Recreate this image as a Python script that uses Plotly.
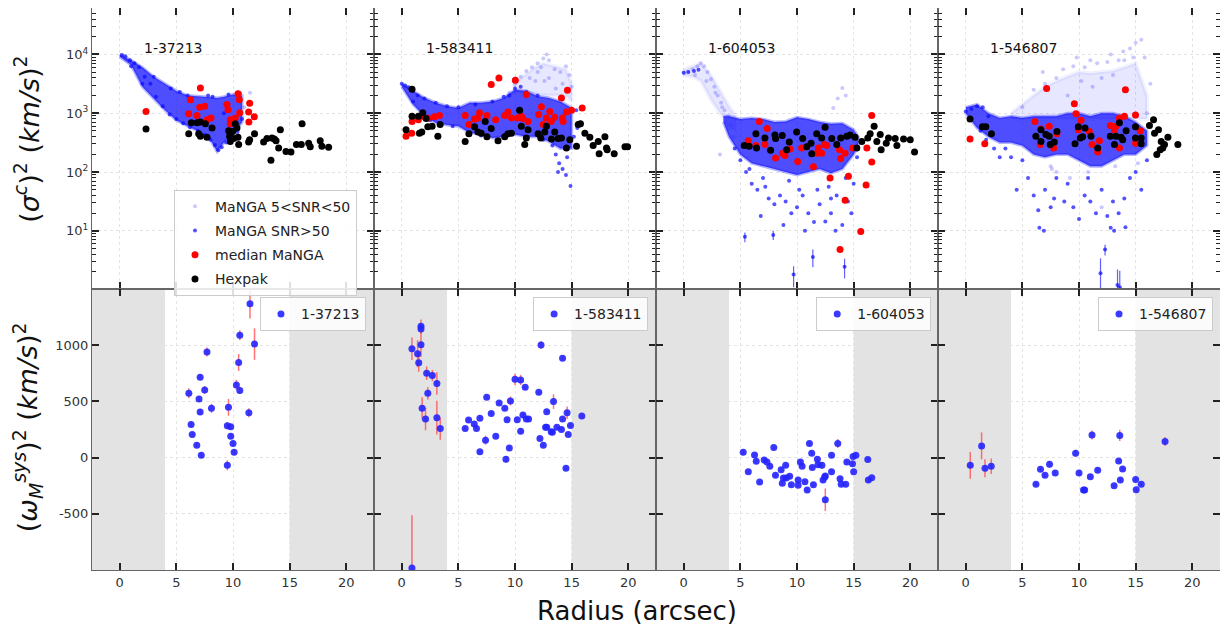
"""MaNGA / Hexpak dispersion profiles, four galaxies"""

import numpy as np
import plotly.graph_objects as go

GALAXIES = ["1-37213", "1-583411", "1-604053", "1-546807"]
X_RANGE = [-2.45, 22.45]

# ---- top row: values are log10 of (sigma^c)^2 in (km/s)^2 ----

# dense MaNGA SNR>50 cloud, upper / lower edge vs radius
band1_r = [0, 1, 2, 3, 4, 5, 6, 7, 8, 8.6, 9.2, 10, 10.8]
band1_hi = [4.0, 3.9, 3.78, 3.62, 3.5, 3.38, 3.3, 3.29, 3.27, 3.26, 3.28, 3.32, 3.3]
band1_lo = [3.96, 3.82, 3.45, 3.25, 3.05, 2.88, 2.78, 2.69, 2.55, 2.35, 2.5, 2.64, 2.85]
band2_r = [0, 1, 2, 3, 4, 5, 6, 7, 8, 9, 10, 11, 12, 13, 14, 15]
band2_hi = [3.5, 3.38, 3.26, 3.18, 3.12, 3.09, 3.18, 3.18, 3.2, 3.26, 3.4, 3.38, 3.29, 3.26, 3.2, 3.09]
band2_lo = [3.45, 3.15, 2.95, 2.84, 2.8, 2.78, 2.67, 2.64, 2.58, 2.6, 2.64, 2.6, 2.6, 2.52, 2.4, 2.4]
band3_r = [3.5, 4, 5, 6, 7, 8, 9, 10, 11, 12, 13, 14, 15, 15.4]
band3_hi = [2.95, 2.95, 2.9, 2.92, 2.9, 2.85, 2.86, 2.93, 2.9, 2.85, 2.82, 2.83, 2.72, 2.6]
band3_lo = [2.85, 2.6, 2.3, 2.15, 2.1, 2.05, 2.0, 1.95, 2.0, 2.05, 1.98, 2.05, 2.3, 2.45]
band4_r = [0, 1, 2, 3, 4, 5, 6, 7, 8, 9, 10, 11, 12, 13, 14, 15, 16]
band4_hi = [3.1, 3.15, 3.0, 2.92, 2.95, 2.92, 2.95, 2.95, 2.95, 3.0, 3.0, 2.95, 3.0, 3.0, 2.95, 2.85, 2.7]
band4_lo = [3.0, 2.75, 2.6, 2.5, 2.5, 2.45, 2.3, 2.25, 2.3, 2.3, 2.2, 2.1, 2.1, 2.2, 2.3, 2.3, 2.45]

# sparser MaNGA 5<SNR<50 cloud
light2_r = [9.8, 10.5, 11.5, 12.5, 13.5, 14.5, 15.0]
light2_hi = [3.45, 3.6, 3.75, 3.85, 3.8, 3.75, 3.5]
light2_lo = [3.35, 3.35, 3.35, 3.3, 3.3, 3.3, 3.2]
light3_r = [0.0, 0.8, 1.5, 2.5, 3.3, 4.0, 4.6]
light3_hi = [3.74, 3.8, 3.85, 3.62, 3.34, 3.12, 2.95]
light3_lo = [3.64, 3.62, 3.55, 3.2, 2.98, 2.75, 2.7]
light4_r = [4, 5, 6, 7, 8, 9, 10, 11, 12, 13, 14, 15, 16]
light4_hi = [3.0, 3.15, 3.3, 3.45, 3.55, 3.62, 3.7, 3.68, 3.7, 3.72, 3.78, 3.85, 3.3]
light4_lo = [2.9, 2.9, 2.9, 2.9, 2.9, 2.9, 2.9, 2.9, 2.9, 2.9, 2.9, 2.9, 2.9]

# individual SNR>50 spaxels outside the dense part
dots1_r = [0.2, 0.5, 0.9, 1.3, 1.7, 2.2, 2.7, 3.2, 3.8, 4.4, 5.0, 5.6, 6.2, 6.9, 7.5, 8.0, 8.4,
           8.7, 9.0, 9.4, 9.9, 10.4, 10.8, 3.0, 4.5, 6.0, 8.2, 9.6, 10.6, 1.0, 2.0, 5.3, 7.8, 9.2]
dots1_lg = [3.99, 3.97, 3.9, 3.85, 3.78, 3.62, 3.5, 3.28, 3.12, 2.98, 2.9, 2.83, 2.76, 2.7, 2.63,
            2.55, 2.46, 2.37, 2.42, 2.5, 2.6, 2.68, 2.9, 3.62, 3.42, 3.3, 3.28, 3.32, 3.34, 3.8,
            3.5, 3.36, 3.3, 3.0]
dots2_r = [0.0, 0.3, 0.6, 1.0, 1.4, 2.0, 3.0, 4.0, 5.0, 6.5, 8.0, 9.0, 10.0, 11.0, 12.5, 13.3,
           13.6, 13.9, 14.2, 14.5, 14.9, 13.8, 14.6, 15.2, 15.5, 15.4, 12.0, 10.5, 9.5, 1.0, 2.5,
           4.5, 7.0]
dots2_lg = [3.5, 3.47, 3.44, 3.38, 3.3, 3.25, 3.18, 3.12, 3.1, 3.15, 3.2, 3.28, 3.42, 3.36, 2.55,
            2.45, 2.3, 2.15, 2.05, 1.95, 1.76, 2.0, 2.25, 2.6, 2.75, 3.05, 3.3, 3.45, 3.3, 3.2,
            2.88, 2.78, 2.62]
dots3_r = [4.5, 5.0, 5.5, 6.0, 6.5, 7.0, 7.5, 8.0, 8.5, 9.0, 9.5, 10.0, 10.5, 11.0, 11.5, 12.0,
           12.5, 13.0, 13.5, 14.0, 14.5, 15.0, 11.8, 10.7, 13.4, 5.8, 7.2, 9.3, 12.8, 14.8, 15.3,
           6.8, 8.8, 10.2, 13.0, 14.3, 0.0, 0.4, 0.9, 1.3]
dots3_lg = [2.4, 2.2, 2.0, 1.8, 1.7, 1.9, 1.55, 1.45, 1.6, 1.5, 1.3, 1.4, 1.6, 1.3, 1.15, 1.45,
            1.16, 1.3, 1.6, 1.1, 1.5, 1.8, 1.7, 1.0, 1.0, 2.05, 1.75, 1.85, 1.75, 1.3, 2.25, 1.25,
            1.1, 1.7, 1.55, 1.9, 3.69, 3.7, 3.72, 3.74]
dots4_r = [0.0, 0.5, 1.0, 1.5, 2.0, 1.3, 1.8, 2.5, 3.0, 4.0, 5.0, 5.5, 6.0, 6.4, 7.0, 7.5, 7.8,
           8.0, 9.0, 9.5, 10.0, 10.5, 11.0, 11.5, 12.0, 12.5, 13.0, 13.5, 14.0, 14.5, 15.0, 15.5,
           16.0, 4.5, 8.7, 12.8, 6.5, 6.9, 13.1, 14.1, 3.5, 10.8]
dots4_lg = [3.03, 3.07, 3.12, 3.1, 2.95, 2.7, 2.55, 2.4, 2.25, 2.25, 2.2, 1.9, 1.6, 1.35, 1.7,
            1.4, 1.55, 1.9, 1.8, 1.4, 1.2, 1.6, 1.5, 1.3, 1.7, 1.25, 1.5, 1.3, 1.55, 1.9, 2.0,
            1.7, 2.2, 1.7, 1.5, 1.05, 1.05, 1.0, 1.0, 1.06, 2.4, 1.9]

# lowest SNR>50 spaxels with visible error bars, in (km/s)^2
tail3_r = [9.7, 11.4, 14.2, 5.4, 7.9]
tail3_v = [1.8, 3.6, 2.45, 7.9, 8.5]
tail3_e = [0.7, 1.2, 0.9, 1.5, 1.5]
tail4_r = [11.9, 13.4, 13.6, 12.3]
tail4_v = [1.9, 1.2, 1.1, 4.8]
tail4_e = [1.5, 1.0, 1.0, 1.0]

# individual 5<SNR<50 spaxels
faint1_r = [11.5, 11.0]
faint1_lg = [3.35, 3.1]
faint2_r = [9.5, 10.0, 10.5, 11.0, 11.5, 12.0, 12.5, 12.8, 13.0, 13.5, 14.0, 14.5, 14.8, 15.0,
            12.0, 13.0, 11.8, 14.2, 13.6, 12.6, 11.3, 12.3]
faint2_lg = [3.35, 3.5, 3.62, 3.72, 3.78, 3.85, 3.93, 4.0, 3.9, 3.75, 3.7, 3.8, 3.65, 3.45, 3.7,
             3.6, 3.55, 3.5, 3.42, 3.55, 3.6, 3.78]
faint3_r = [0.0, 0.4, 0.8, 1.2, 1.5, 1.8, 2.1, 2.4, 2.7, 3.0, 3.3, 3.6, 3.9, 4.2, 1.0, 2.0, 2.8,
            3.4, 13.2, 14.0, 13.6, 3.2, 14.3, 4.4]
faint3_lg = [3.69, 3.7, 3.75, 3.8, 3.85, 3.8, 3.7, 3.58, 3.45, 3.3, 3.18, 3.05, 2.95, 2.8, 3.65,
             3.55, 3.35, 3.1, 3.09, 3.43, 3.25, 2.3, 3.3, 2.6]
faint4_r = [6.0, 7.0, 8.0, 9.5, 10.5, 11.6, 12.5, 13.5, 14.5, 15.0, 15.5, 16.3, 12.0, 14.0, 8.0,
            12.0, 5.0, 9.0, 10.2, 11.2, 13.0, 15.8, 16.0, 7.5, 6.8, 8.6, 9.8, 11.0, 12.8, 13.9,
            14.8, 7.6, 10.8, 13.2, 15.2, 9.2]
faint4_lg = [3.4, 3.5, 3.6, 3.8, 3.78, 3.85, 3.87, 3.9, 4.1, 4.2, 4.25, 3.5, 3.6, 3.9, 2.0, 1.4,
             3.1, 3.3, 3.55, 3.45, 3.65, 3.95, 3.0, 2.1, 3.7, 3.75, 3.95, 3.9, 4.0, 4.05, 3.95,
             2.05, 2.0, 2.1, 2.15, 1.9]

# median MaNGA
med1_r = [2.32, 6.24, 7.12, 6.09, 6.82, 7.06, 7.5, 8.06, 7.7, 9.47, 9.56, 9.76, 10.2, 10.44,
          10.56, 10.59, 11.38, 11.47, 11.88, 9.76, 11.4]
med1_lg = [3.03, 3.23, 3.43, 2.99, 2.96, 3.1, 3.12, 2.92, 2.89, 3.15, 3.06, 2.89, 2.92, 3.33,
           3.23, 3.01, 3.02, 3.17, 2.94, 2.82, 2.85]
med2_r = [0.38, 0.88, 0.91, 1.47, 1.86, 2.3, 2.89, 3.33, 5.6, 5.93, 6.43, 6.73, 6.87, 7.52, 7.9,
          8.58, 8.29, 9.09, 9.38, 9.68, 10.03, 10.2, 10.56, 10.7, 11.0, 11.15, 12.09, 12.33,
          12.48, 12.77, 13.07, 13.2, 13.5, 14.1, 14.19, 14.25, 14.63, 14.54, 14.99, 15.93]
med2_lg = [2.61, 2.66, 2.86, 2.89, 2.95, 2.92, 2.94, 2.96, 2.96, 2.81, 2.9, 2.92, 3.01, 2.96,
           3.49, 3.6, 2.89, 2.96, 3.02, 2.92, 3.56, 2.92, 2.95, 2.91, 3.32, 2.86, 2.98, 3.11,
           2.81, 2.92, 3.03, 2.86, 2.93, 3.26, 2.92, 2.86, 3.39, 3.02, 3.05, 3.09]
med3_r = [6.67, 7.37, 5.69, 6.37, 7.17, 8.11, 8.73, 8.94, 9.38, 10.06, 10.41, 10.86, 11.45,
          11.74, 11.89, 12.18, 12.42, 12.63, 12.92, 13.75, 13.86, 14.25, 14.54, 14.93, 14.25,
          15.63, 13.8, 16.1, 16.6, 16.6, 16.17]
med3_lg = [2.86, 2.74, 2.53, 2.45, 2.47, 2.24, 2.32, 2.28, 2.39, 2.18, 2.41, 2.43, 2.09, 2.32,
           2.41, 2.32, 2.47, 2.45, 1.9, 2.38, 2.23, 2.32, 1.93, 2.41, 1.52, 0.99, 0.68, 1.78,
           2.17, 2.96, 2.41]
med4_r = [0.38, 1.68, 6.11, 6.64, 7.14, 7.37, 6.58, 7.76, 8.05, 9.59, 9.73, 10.18, 9.94, 10.91,
          11.15, 11.65, 11.8, 12.77, 13.13, 13.27, 13.57, 14.01, 14.1, 13.57, 14.99, 15.4, 14.99]
med4_lg = [2.56, 2.48, 2.86, 2.73, 3.42, 2.78, 2.47, 2.41, 2.65, 3.16, 2.99, 2.88, 2.72, 2.69,
           2.47, 2.34, 2.53, 2.79, 2.72, 2.78, 2.92, 2.95, 3.4, 2.41, 2.97, 2.7, 2.49]

# Hexpak
hex1_r = [2.32, 6.32, 6.82, 7.12, 7.56, 6.09, 6.97, 7.12, 7.7, 8.15, 9.62, 9.97, 10.35, 10.2,
          9.7, 10.06, 10.44, 9.76, 10.5, 11.38, 11.47, 11.9, 12.7, 13.0, 13.44, 13.65, 13.8,
          13.35, 14.03, 14.18, 14.68, 15.12, 15.6, 16.03, 16.1, 16.68, 16.82, 17.7, 17.85, 18.44]
hex1_lg = [2.73, 2.84, 2.84, 2.85, 2.82, 2.65, 2.65, 2.61, 2.59, 2.75, 2.7, 2.69, 2.75, 2.82,
           2.61, 2.57, 2.59, 2.52, 2.47, 2.51, 2.55, 2.65, 2.51, 2.57, 2.58, 2.56, 2.53, 2.2,
           2.41, 2.72, 2.35, 2.34, 2.47, 2.47, 2.82, 2.49, 2.43, 2.53, 2.44, 2.42]
hex2_r = [0.38, 0.91, 0.91, 1.47, 1.56, 1.77, 1.86, 2.15, 2.3, 2.68, 3.19, 3.39, 5.6, 5.93,
          6.43, 6.73, 7.02, 7.37, 7.52, 7.9, 8.5, 9.09, 9.38, 9.68, 10.41, 10.56, 10.86, 11.0,
          11.15, 12.04, 12.27, 12.63, 12.77, 13.22, 13.51, 13.81, 14.1, 14.54, 14.84, 15.43,
          15.58, 15.78, 16.17, 16.61, 16.9, 17.35, 17.43, 17.94, 18.08, 18.14, 18.76, 19.71, 19.94]
hex2_lg = [2.72, 2.95, 3.41, 2.95, 2.66, 2.68, 3.01, 2.91, 2.77, 2.78, 2.61, 2.81, 2.52, 2.65,
           2.77, 2.68, 2.66, 2.86, 2.6, 2.74, 2.53, 2.6, 2.65, 2.66, 3.05, 2.78, 2.47, 2.58,
           2.72, 2.65, 2.58, 2.68, 2.78, 2.56, 2.68, 2.57, 2.58, 2.41, 2.55, 2.44, 2.81, 2.82,
           2.66, 2.59, 2.45, 2.52, 2.31, 2.6, 2.41, 2.38, 2.31, 2.43, 2.43]
hex3_r = [5.34, 5.78, 6.37, 6.43, 7.17, 7.67, 8.05, 8.11, 8.7, 9.09, 9.32, 9.97, 10.5, 10.86,
          11.24, 11.3, 11.74, 12.18, 12.48, 13.07, 13.51, 13.86, 14.4, 14.69, 15.13, 15.28,
          15.72, 16.25, 16.46, 16.81, 17.05, 17.35, 17.43, 17.88, 18.08, 18.67, 18.82, 19.41,
          20.0, 20.38]
hex3_lg = [2.45, 2.44, 2.65, 2.41, 2.58, 2.37, 2.63, 2.57, 2.62, 2.38, 2.51, 2.68, 2.57, 2.43,
           2.49, 2.31, 2.65, 2.58, 2.76, 2.57, 2.47, 2.58, 2.61, 2.63, 2.59, 2.41, 2.52, 2.58,
           2.65, 2.78, 2.52, 2.64, 2.38, 2.49, 2.58, 2.57, 2.45, 2.56, 2.55, 2.34]
hex4_r = [0.38, 1.47, 1.77, 2.27, 6.19, 6.64, 6.64, 7.08, 7.37, 7.46, 7.82, 8.05, 9.65, 9.94,
          10.12, 10.32, 10.53, 11.06, 11.65, 12.77, 13.13, 13.27, 13.57, 13.72, 13.86, 14.16,
          14.99, 14.99, 15.49, 15.49, 16.22, 16.58, 16.67, 17.02, 17.26, 17.4, 17.17, 17.55,
          17.85, 16.87, 18.73]
hex4_lg = [2.9, 2.77, 2.77, 2.65, 2.61, 2.72, 2.52, 2.64, 2.61, 2.47, 2.51, 2.69, 2.48, 2.77,
           2.58, 2.6, 2.75, 2.61, 2.41, 2.61, 2.47, 2.61, 2.84, 2.59, 2.55, 2.7, 2.77, 2.58, 2.58,
           2.48, 2.79, 2.89, 2.66, 2.72, 2.52, 2.41, 2.38, 2.47, 2.59, 2.3, 2.47]

# ---- bottom row: (omega_M^sys)^2 in (km/s)^2 with errors ----
sys1_r = [6.1, 6.3, 6.4, 6.8, 7.0, 7.1, 7.1, 7.2, 7.5, 7.7, 8.1, 9.5, 9.5, 9.6, 9.8, 9.8, 10.0,
          10.1, 10.3, 10.5, 10.6, 10.6, 11.4, 11.5, 11.9]
sys1_v = [572, 295, 206, 110, 522, 715, 405, 21, 602, 939, 438, -69, 283, 447, 274, 191, 125,
          48, 647, 846, 1088, 596, 399, 1368, 1010]
sys1_e = [45, 20, 20, 20, 25, 25, 25, 20, 35, 40, 40, 45, 30, 75, 25, 20, 20, 20, 45, 75, 45,
          30, 40, 130, 140]
sys2_r = [0.9, 1.4, 1.5, 1.7, 1.7, 1.7, 2.2, 2.3, 2.7, 3.1, 1.8, 2.1, 3.1, 3.4, 0.9, 5.6, 5.9,
          6.4, 6.6, 6.9, 6.9, 7.4, 7.5, 7.9, 8.3, 8.6, 9.1, 9.2, 9.3, 9.5, 9.6, 10.0, 10.2, 10.5,
          10.5, 10.7, 10.9, 11.0, 11.2, 12.1, 12.2, 12.3, 12.5, 12.7, 12.8, 12.8, 13.2, 13.3,
          13.4, 13.7, 14.1, 14.2, 14.2, 14.6, 14.7, 14.5, 14.9, 15.9]
sys2_v = [968, 924, 843, 1168, 1144, 1004, 751, 572, 730, 659, 438, 343, 355, 259, -983, 259,
          334, 298, 259, 349, 51, 155, 536, 393, 191, 486, 438, -15, 337, 86, 504, 697, 337,
          235, 691, 378, 626, 343, 343, 581, 170, 1001, 110, 271, 271, 408, 229, 225, 498, 271,
          250, 885, 343, 399, 206, -95, 286, 370]
sys2_e = [100, 120, 80, 60, 40, 110, 60, 55, 50, 100, 100, 100, 150, 100, 470, 15, 15, 15, 15,
          15, 15, 40, 15, 15, 15, 15, 15, 30, 15, 15, 40, 50, 15, 15, 45, 15, 15, 15, 15, 15,
          15, 35, 15, 15, 15, 15, 15, 15, 65, 15, 15, 15, 15, 55, 15, 15, 15, 15]
sys3_r = [5.25, 5.7, 6.25, 6.4, 6.7, 7.1, 7.35, 7.6, 7.95, 8.1, 8.6, 8.7, 8.8, 9.0, 9.05, 9.35,
          9.5, 10.1, 10.1, 10.3, 10.45, 10.7, 10.9, 11.1, 11.3, 11.35, 11.45, 11.8, 11.85, 12.2,
          12.3, 12.45, 12.5, 12.5, 13.05, 13.05, 13.6, 13.8, 13.9, 14.3, 14.4, 14.9, 14.95,
          15.2, 15.0, 16.25, 16.3, 16.6]
sys3_v = [48, -125, 24, -33, -218, -21, -39, -77, 89, -158, -107, -229, -182, -69, -182, -167,
          -241, -200, -247, -39, -77, -215, -289, 125, 39, -89, -241, -15, -63, -69, -200, -173,
          -164, -375, 21, -125, 125, -188, -238, -238, -39, -54, 9, 21, -125, -18, -200, -179]
sys3_e = [20, 15, 15, 15, 15, 15, 15, 15, 15, 15, 15, 15, 15, 15, 15, 15, 15, 15, 15, 20, 15,
          15, 15, 15, 15, 15, 15, 15, 15, 30, 15, 15, 15, 100, 15, 15, 40, 15, 15, 15, 15, 15,
          15, 15, 15, 15, 15, 15]
sys4_r = [0.4, 1.4, 1.7, 2.25, 6.2, 6.6, 7.0, 7.4, 7.9, 9.7, 10.0, 10.4, 10.5, 11.0, 11.15,
          11.65, 13.1, 13.5, 13.6, 13.65, 13.85, 15.0, 15.05, 15.5, 17.6]
sys4_v = [-69, 104, -95, -77, -238, -104, -158, -60, -137, 39, -137, -289, -289, -170, 200,
          -113, -250, -30, 197, -200, -101, -194, -286, -238, 143]
sys4_e = [120, 120, 80, 70, 15, 20, 15, 30, 15, 30, 20, 15, 15, 15, 40, 20, 15, 15, 50, 20, 15,
          15, 15, 15, 40]

FONT = "DejaVu Sans"
DARK = "rgba(10,10,255,0.72)"
FAINT = "rgba(40,40,255,0.25)"

bands = [(band1_r, band1_hi, band1_lo), (band2_r, band2_hi, band2_lo),
         (band3_r, band3_hi, band3_lo), (band4_r, band4_hi, band4_lo)]
lights = [None, (light2_r, light2_hi, light2_lo), (light3_r, light3_hi, light3_lo),
          (light4_r, light4_hi, light4_lo)]
dots = [(dots1_r, dots1_lg), (dots2_r, dots2_lg), (dots3_r, dots3_lg), (dots4_r, dots4_lg)]
faints = [(faint1_r, faint1_lg), (faint2_r, faint2_lg), (faint3_r, faint3_lg),
          (faint4_r, faint4_lg)]
tails = [None, None, (tail3_r, tail3_v, tail3_e), (tail4_r, tail4_v, tail4_e)]
meds = [(med1_r, med1_lg), (med2_r, med2_lg), (med3_r, med3_lg), (med4_r, med4_lg)]
hexs = [(hex1_r, hex1_lg), (hex2_r, hex2_lg), (hex3_r, hex3_lg), (hex4_r, hex4_lg)]
syss = [(sys1_r, sys1_v, sys1_e), (sys2_r, sys2_v, sys2_e), (sys3_r, sys3_v, sys3_e),
        (sys4_r, sys4_v, sys4_e)]


def envelope(r, hi, lo):
    xs = list(r) + list(r)[::-1]
    ys = list(10 ** np.array(hi)) + list(10 ** np.array(lo))[::-1]
    return xs, ys


fig = go.Figure()

for i in range(4):
    xt, yt = ("x", "y") if i == 0 else (f"x{i+1}", f"y{i+1}")
    first = i == 0

    if lights[i] is not None:
        xs, ys = envelope(*lights[i])
        fig.add_trace(go.Scatter(x=xs, y=ys, fill="toself", fillcolor="rgba(40,40,255,0.11)",
                                 line=dict(width=4, color="rgba(40,40,255,0.06)"),
                                 mode="lines", hoverinfo="skip",
                                 showlegend=False, xaxis=xt, yaxis=yt))
    xs, ys = envelope(*bands[i])
    fig.add_trace(go.Scatter(x=xs, y=ys, fill="toself", fillcolor=DARK,
                             line=dict(width=3, color="rgba(10,10,255,0.3)"), mode="lines",
                             hoverinfo="skip", showlegend=False, xaxis=xt, yaxis=yt))

    fig.add_trace(go.Scatter(x=faints[i][0], y=10 ** np.array(faints[i][1]), mode="markers",
                             marker=dict(size=4, color=FAINT), name="MaNGA 5&lt;SNR&lt;50",
                             legendgroup="a", showlegend=first, xaxis=xt, yaxis=yt))
    fig.add_trace(go.Scatter(x=dots[i][0], y=10 ** np.array(dots[i][1]), mode="markers",
                             marker=dict(size=4, color="rgba(10,10,255,0.7)"),
                             name="MaNGA SNR>50", legendgroup="b", showlegend=first,
                             xaxis=xt, yaxis=yt))
    if tails[i] is not None:
        tr, tv, te = tails[i]
        fig.add_trace(go.Scatter(x=tr, y=tv, mode="markers",
                                 marker=dict(size=4, color="rgba(10,10,255,0.7)"),
                                 error_y=dict(type="data", array=te, color="rgba(30,30,255,0.7)",
                                              thickness=1.2, width=0),
                                 showlegend=False, xaxis=xt, yaxis=yt))
    fig.add_trace(go.Scatter(x=meds[i][0], y=10 ** np.array(meds[i][1]), mode="markers",
                             marker=dict(size=7, color="#ff0000"), name="median MaNGA",
                             legendgroup="c", showlegend=first, xaxis=xt, yaxis=yt))
    fig.add_trace(go.Scatter(x=hexs[i][0], y=10 ** np.array(hexs[i][1]), mode="markers",
                             marker=dict(size=7, color="#000000"), name="Hexpak",
                             legendgroup="d", showlegend=first, xaxis=xt, yaxis=yt))

    # bottom row
    sr, sv, se = syss[i]
    fig.add_trace(go.Scatter(x=sr, y=sv, mode="markers", name=GALAXIES[i],
                             marker=dict(size=7, color="rgba(35,35,255,0.9)"),
                             error_y=dict(type="data", array=se, color="rgba(255,70,70,0.75)",
                                          thickness=1.5, width=0),
                             legend=f"legend{i+2}", xaxis=f"x{i+5}", yaxis=f"y{i+5}"))

AX = dict(showline=True, linecolor="#666666", linewidth=1, mirror="ticks",
          ticks="inside", ticklen=7, tickwidth=1.5, tickcolor="#222222", automargin=False,
          showgrid=True, gridcolor="#e4e4e4", griddash="dot", gridwidth=1, zeroline=False,
          tickfont=dict(family=FONT, size=13, color="#333333"))

layout = {}
W = 0.25
for i in range(4):
    dom = [i * W, (i + 1) * W]
    # top row
    kx = "xaxis" if i == 0 else f"xaxis{i+1}"
    ky = "yaxis" if i == 0 else f"yaxis{i+1}"
    anchor_y = "y" if i == 0 else f"y{i+1}"
    anchor_x = "x" if i == 0 else f"x{i+1}"
    layout[kx] = dict(AX, domain=dom, anchor=anchor_y, range=X_RANGE, tick0=0, dtick=5,
                      showticklabels=False)
    layout[ky] = dict(AX, domain=[0.5, 1.0], anchor=anchor_x, type="log", range=[0.01, 4.79],
                      tickvals=[10, 100, 1000, 10000],
                      ticktext=["10<sup>1</sup>", "10<sup>2</sup>", "10<sup>3</sup>",
                                "10<sup>4</sup>"],
                      showticklabels=(i == 0),
                      minor=dict(ticks="inside", ticklen=4, tickwidth=1, tickcolor="#222222",
                                 tick0=0, dtick="D1", showgrid=False))
    # bottom row
    layout[f"xaxis{i+5}"] = dict(AX, domain=dom, anchor=f"y{i+5}", range=X_RANGE, tick0=0,
                                 dtick=5, showticklabels=True)
    layout[f"yaxis{i+5}"] = dict(AX, domain=[0.0, 0.5], anchor=f"x{i+5}",
                                 range=[-1000, 1500], tickvals=[-500, 0, 500, 1000],
                                 ticktext=["-500", "0", "500", "1000"],
                                 showticklabels=(i == 0))

shapes = []
for i in range(4):
    for x0, x1 in [(X_RANGE[0], 4), (15, X_RANGE[1])]:
        shapes.append(dict(type="rect", xref=f"x{i+5}", yref=f"y{i+5} domain", x0=x0, x1=x1,
                           y0=0, y1=1, fillcolor="#e3e3e3", line=dict(width=0), layer="below"))

annotations = []
for i, name in enumerate(GALAXIES):
    xr = "x" if i == 0 else f"x{i+1}"
    yr = "y" if i == 0 else f"y{i+1}"
    annotations.append(dict(x=2.0, y=4.11, xref=xr, yref=yr, text=name, showarrow=False,
                            xanchor="left", yanchor="middle",
                            font=dict(family=FONT, size=14, color="#111111")))

annotations += [
    dict(x=-0.0576, y=0.7655, xref="paper", yref="paper", textangle=-90, showarrow=False,
         xanchor="center", yanchor="middle",
         text="(<i>σ</i><sup><i>c</i></sup>)<sup>2</sup> (<i>km/s</i>)<sup>2</sup>",
         font=dict(family=FONT, size=27, color="#111111")),
    dict(x=-0.0576, y=0.254, xref="paper", yref="paper", textangle=-90, showarrow=False,
         xanchor="center", yanchor="middle",
         text="(<i>ω</i><sub><i>M</i></sub><sup><i>sys</i></sup>)<sup>2</sup> "
              "(<i>km/s</i>)<sup>2</sup>",
         font=dict(family=FONT, size=27, color="#111111")),
    dict(x=0.483, y=-0.073, xref="paper", yref="paper", showarrow=False,
         xanchor="center", yanchor="middle",
         text="Radius (arcsec)", font=dict(family=FONT, size=26, color="#111111")),
]

LEG = dict(bgcolor="rgba(255,255,255,0.85)", bordercolor="#cccccc", borderwidth=1,
           font=dict(family=FONT, size=14, color="#222222"))
legend_right = [0.2429, 0.493, 0.744, 0.9938]
for i in range(4):
    layout[f"legend{i+2}"] = dict(LEG, x=legend_right[i], y=0.485, xanchor="right",
                                  yanchor="top")

# the page body adds an 8 px offset, so the figure is drawn 8 px smaller
fig.update_layout(
    width=1220, height=623,
    margin=dict(l=84, r=8, t=0, b=61, autoexpand=False),
    paper_bgcolor="white", plot_bgcolor="white",
    font=dict(family=FONT),
    legend=dict(LEG, x=0.0727, y=0.6767, xanchor="left", yanchor="top", tracegroupgap=3),
    shapes=shapes, annotations=annotations,
    **layout,
)

fig.write_html("out.html")
